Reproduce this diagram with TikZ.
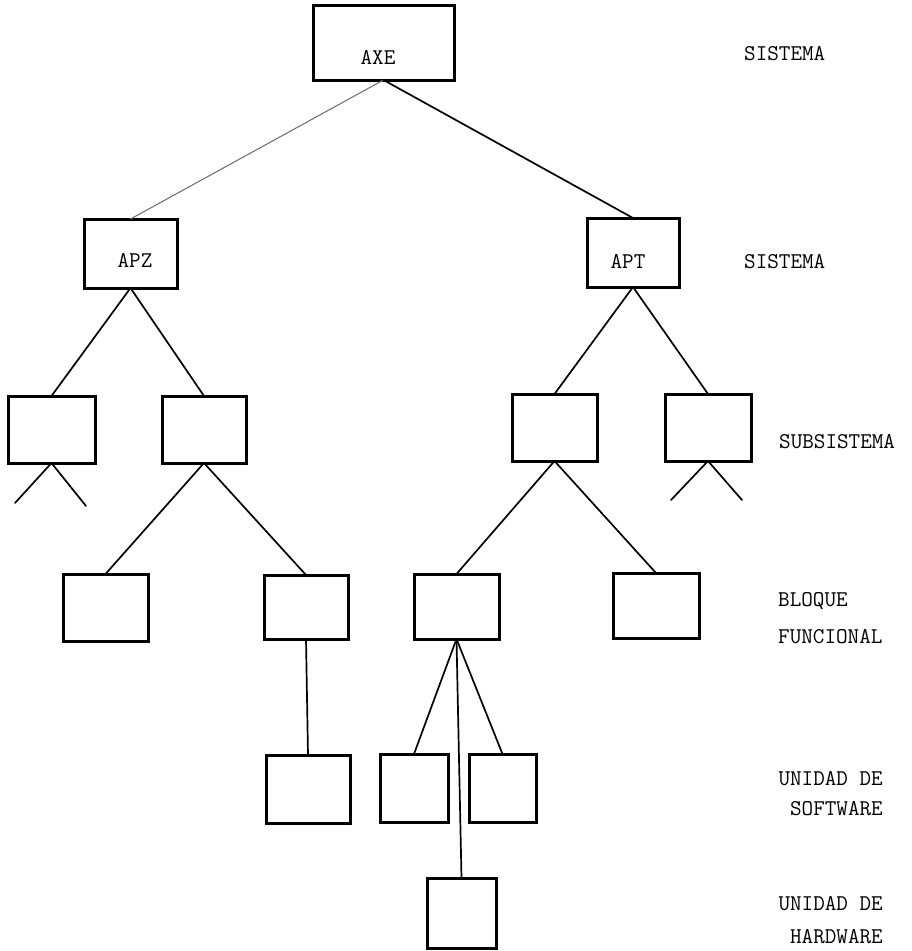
\documentclass[tikz,border=0pt]{standalone}
\usetikzlibrary{calc}
\begin{document}
\begin{tikzpicture}[x=1pt,y=-1pt,
  box/.style={draw, line width=3pt, inner sep=0pt, outer sep=0pt},
  conn/.style={line width=1.7pt, line cap=round},
  faint/.style={line width=1.1pt, draw=black!55, line cap=round},
  lbl/.style={font=\fontsize{22.5}{27}\selectfont\ttfamily, inner sep=0pt, text height=0.62em, text depth=0pt}]
\useasboundingbox (0,0) rectangle (911,951);
% boxes
\node[box, minimum width=141pt, minimum height=75pt] (axe) at (383.5,42.5) {};
\node[box, minimum width=93pt, minimum height=69pt] (apz) at (130.5,253.5) {};
\node[box, minimum width=92pt, minimum height=69pt] (apt) at (633,252.5) {};
\node[box, minimum width=87pt, minimum height=67pt] (sub1) at (51.5,429.5) {};
\node[box, minimum width=84pt, minimum height=67pt] (sub2) at (204,429.5) {};
\node[box, minimum width=85pt, minimum height=67pt] (sub3) at (554.5,427.5) {};
\node[box, minimum width=86pt, minimum height=67pt] (sub4) at (708,427.5) {};
\node[box, minimum width=85pt, minimum height=67pt] (b1) at (105.5,607.5) {};
\node[box, minimum width=84pt, minimum height=64pt] (b2) at (306,607) {};
\node[box, minimum width=85pt, minimum height=65pt] (b3) at (456.5,606.5) {};
\node[box, minimum width=86pt, minimum height=65pt] (b4) at (656,605.5) {};
\node[box, minimum width=84pt, minimum height=68pt] (s1) at (308,789) {};
\node[box, minimum width=68pt, minimum height=68pt] (s2) at (414,788) {};
\node[box, minimum width=67pt, minimum height=68pt] (s3) at (502.5,788) {};
\node[box, minimum width=69pt, minimum height=70pt] (h1) at (461.5,913) {};
% box texts
\node[lbl] (taxe) at (378,61) {AXE};
\node[lbl] (tapz) at (135,264) {APZ};
\node[lbl] (tapt) at (628,265) {APT};
% level labels
\node[lbl, anchor=west] (lv1) at (744,57) {SISTEMA};
\node[lbl, anchor=west] (lv2) at (744,265) {SISTEMA};
\node[lbl, anchor=west] (lv3) at (779,445) {SUBSISTEMA};
\node[lbl, anchor=west] (lv4) at (778,603) {BLOQUE};
\node[lbl, anchor=west] (lv5) at (778,640) {FUNCIONAL};
\node[lbl, anchor=east] (lv6) at (883,782) {UNIDAD DE};
\node[lbl, anchor=east] (lv7) at (883,812) {SOFTWARE};
\node[lbl, anchor=east] (lv8) at (883,907) {UNIDAD DE};
\node[lbl, anchor=east] (lv9) at (883,940) {HARDWARE};
% free leg ends
\coordinate (k1a) at (15,503);
\coordinate (k1b) at (86,506);
\coordinate (k4a) at (671,500);
\coordinate (k4b) at (742,500);
% connectors
\draw[faint] (axe.south) -- (apz.north);
\draw[conn] (axe.south) -- (apt.north);
\draw[conn] (apz.south) -- (sub1.north);
\draw[conn] (apz.south) -- (sub2.north);
\draw[conn] (apt.south) -- (sub3.north);
\draw[conn] (apt.south) -- (sub4.north);
\draw[conn] (sub1.south) -- (k1a);
\draw[conn] (sub1.south) -- (k1b);
\draw[conn] (sub4.south) -- (k4a);
\draw[conn] (sub4.south) -- (k4b);
\draw[conn] (sub2.south) -- (b1.north);
\draw[conn] (sub2.south) -- (b2.north);
\draw[conn] (sub3.south) -- (b3.north);
\draw[conn] (sub3.south) -- (b4.north);
\draw[conn] (b2.south) -- (s1.north);
\draw[conn] (b3.south) -- (s2.north);
\draw[conn] (b3.south) -- (s3.north);
\draw[conn] (b3.south) -- (h1.north);
\end{tikzpicture}
\end{document}
